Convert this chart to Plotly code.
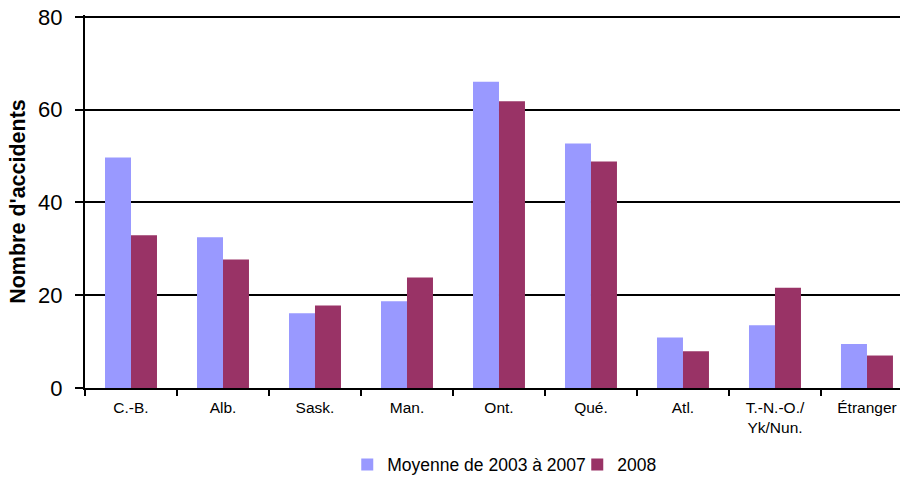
import plotly.graph_objects as go

categories = ["C.-B.", "Alb.", "Sask.", "Man.", "Ont.", "Qué.", "Atl.", "T.-N.-O./<br>Yk/Nun.", "Étranger"]
moyenne_2003_2007 = [49.7, 32.5, 16.1, 18.7, 66.0, 52.7, 10.9, 13.5, 9.5]
annee_2008 = [32.9, 27.7, 17.8, 23.8, 61.8, 48.8, 7.9, 21.6, 7.0]
series_names = ["Moyenne de 2003 à 2007", "2008"]
y_ticks = [0, 20, 40, 60, 80]

FONT = "Liberation Sans, Arial, sans-serif"

fig = go.Figure()
fig.add_trace(go.Bar(x=categories, y=moyenne_2003_2007, name=series_names[0],
                     marker=dict(color="#9999FF", line=dict(width=0))))
fig.add_trace(go.Bar(x=categories, y=annee_2008, name=series_names[1],
                     marker=dict(color="#993366", line=dict(width=0))))

fig.update_layout(
    width=902, height=480,
    margin=dict(l=85, r=2, t=15, b=92, autoexpand=False),
    paper_bgcolor="white", plot_bgcolor="white",
    barmode="group", bargap=0.435, bargroupgap=0,
    font=dict(family=FONT, color="black"),
    showlegend=True,
    legend=dict(orientation="h", x=0.604, xanchor="center", y=-0.157, yanchor="top",
                font=dict(size=17.5, family=FONT, color="black"),
                itemwidth=30, tracegroupgap=0, entrywidth=185, entrywidthmode="pixels"),
    xaxis=dict(
        type="category", range=[-0.5, 8.359], automargin=False,
        showline=True, linecolor="black", linewidth=2,
        ticks="outside", tickson="boundaries", ticklen=6, tickwidth=2, tickcolor="black",
        showgrid=False, tickfont=dict(size=15.5, family=FONT, color="black"),
        ticklabelstandoff=4,
    ),
    yaxis=dict(
        range=[0, 80.4], tickvals=y_ticks, automargin=False,
        showline=True, linecolor="black", linewidth=2,
        ticks="outside", ticklen=8, tickwidth=2, tickcolor="black",
        showgrid=True, gridcolor="black", gridwidth=1.5,
        zeroline=False,
        tickfont=dict(size=22, family=FONT, color="black"),
        ticklabelstandoff=8,
        title=dict(text="<b>Nombre d'accidents</b>", font=dict(size=21.5, family=FONT, color="black"), standoff=7),
    ),
)

fig.write_html("out.html", config={"displayModeBar": False},
               post_script="document.body.style.margin='0';")
